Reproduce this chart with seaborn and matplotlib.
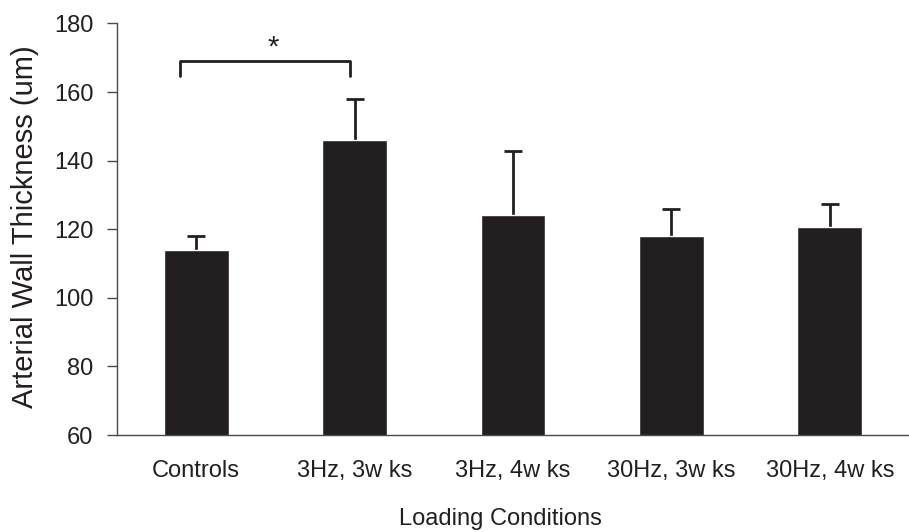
import numpy as np
import matplotlib
matplotlib.use("Agg")
import matplotlib.pyplot as plt
import seaborn as sns

# datos
conditions = ["Controls", "3Hz, 3w ks", "3Hz, 4w ks", "30Hz, 3w ks", "30Hz, 4w ks"]
thickness = [114.0, 146.0, 124.0, 118.0, 120.7]
upper_err = [4.0, 12.0, 18.8, 8.0, 6.7]

bar_color = "#231f20"
axis_color = "#4a4a4a"

sns.set_style("white")
plt.rcParams["font.family"] = ["Liberation Sans", "DejaVu Sans"]

fig = plt.figure(figsize=(9.09, 5.32), dpi=100)
ax = fig.add_axes([0.1287, 0.1823, 0.8713, 0.7737])

sns.barplot(x=conditions, y=thickness, color=bar_color, width=0.41,
            saturation=1, ax=ax, zorder=2)

pos = np.arange(len(conditions))
eb = ax.errorbar(pos, thickness, yerr=[np.zeros(len(upper_err)), upper_err],
                 fmt="none", ecolor=bar_color, elinewidth=2, capsize=6.4,
                 capthick=2, zorder=1)
# solo la barra de error superior
eb[1][0].set_visible(False)

ax.set_ylim(60, 180)
ax.set_xlim(-0.5, 4.44)
ax.set_yticks(np.arange(60, 181, 20))

# marcas del eje x en los límites de cada categoría
ax.set_xticks(pos)
ax.set_xticklabels(conditions)
ax.set_xticks(np.arange(-0.5, len(conditions), 1.0), minor=True)
ax.tick_params(axis="x", which="major", length=0, pad=18, labelsize=17,
               labelcolor=bar_color)
ax.tick_params(axis="x", which="minor", length=7, width=1, color=axis_color,
               direction="out")
ax.tick_params(axis="y", length=7, width=1, color=axis_color, direction="out",
               left=True, pad=10, labelsize=17, labelcolor=bar_color)

for s in ["top", "right"]:
    ax.spines[s].set_visible(False)
for s in ["left", "bottom"]:
    ax.spines[s].set_color(axis_color)
    ax.spines[s].set_linewidth(1)

ax.set_xlabel("Loading Conditions", fontsize=17, color=bar_color)
ax.xaxis.set_label_coords(0.484, -0.178)
ax.set_ylabel("Arterial Wall Thickness (um)", fontsize=21, color=bar_color)
ax.yaxis.set_label_coords(-0.098, 0.505)

# corchete de significación
x0, x1 = -0.1, 0.97
ax.plot([x0, x0, x1, x1], [164.6, 168.9, 168.9, 164.6], color=bar_color,
        lw=2, clip_on=False, zorder=3)
ax.text(0.486, 168.8, "*", ha="center", va="bottom", fontsize=21,
        color=bar_color)

plt.savefig("out.png", dpi=100)
